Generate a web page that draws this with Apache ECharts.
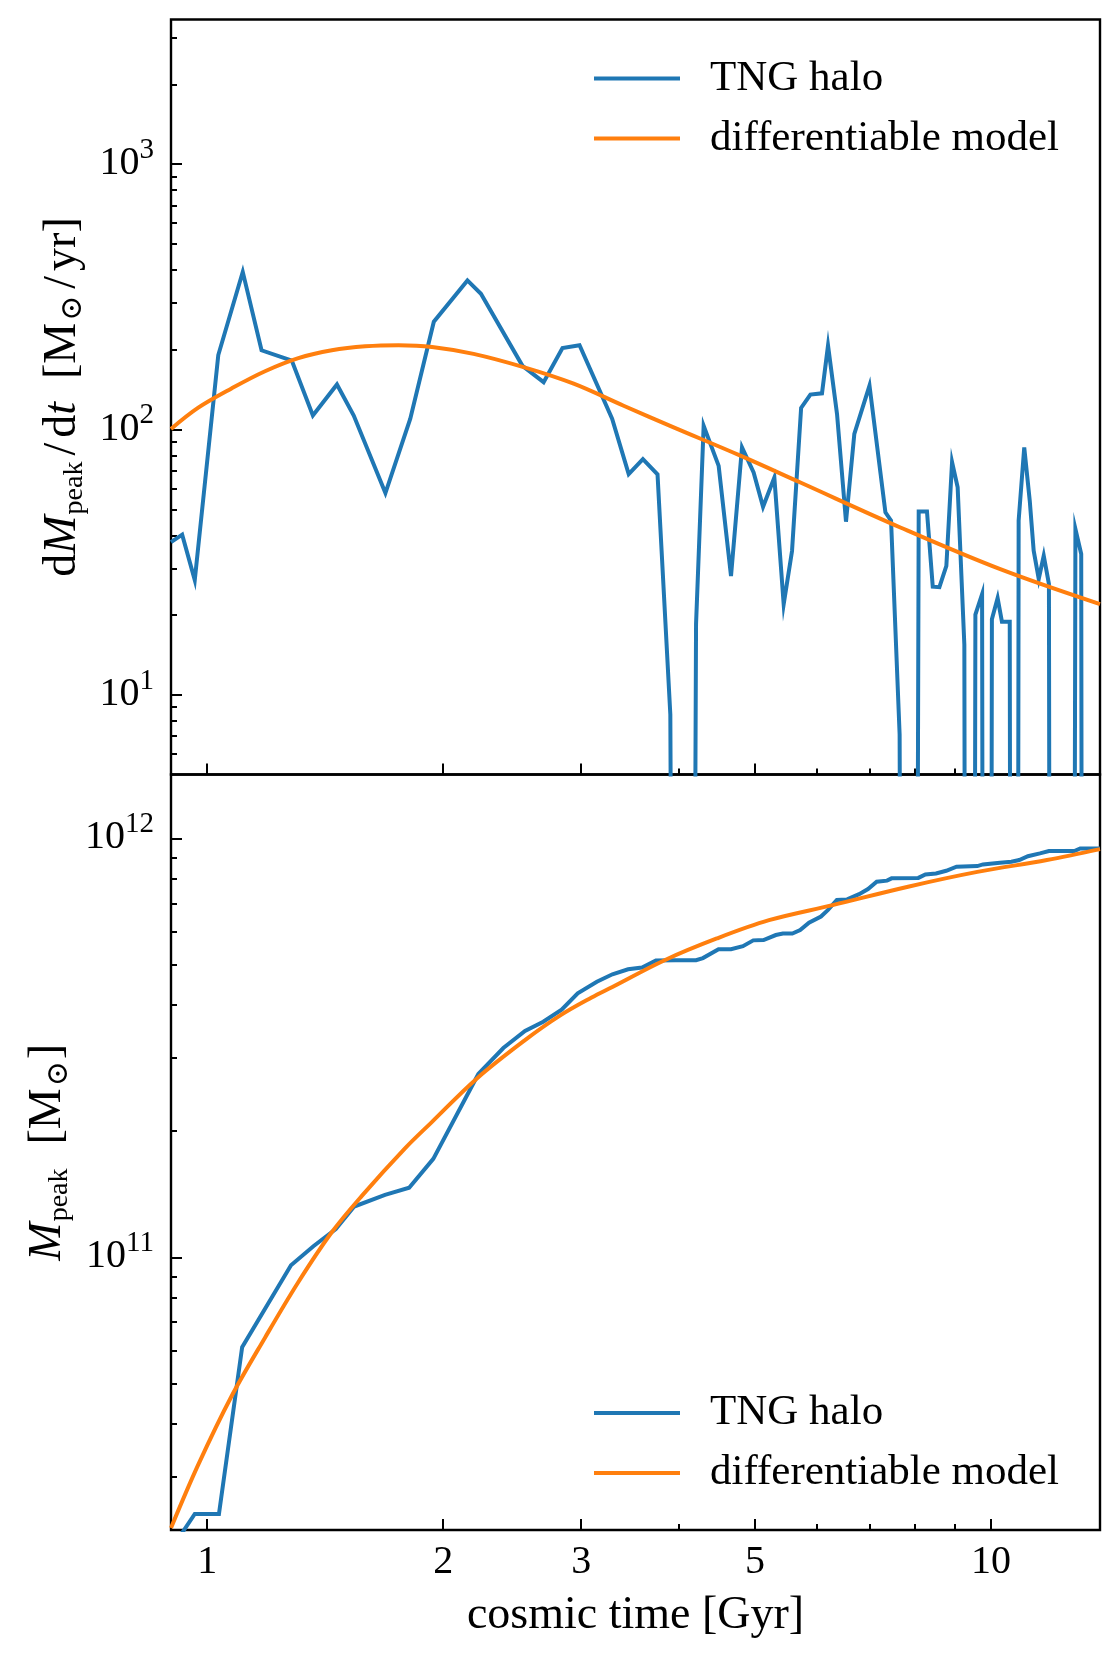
<!DOCTYPE html>
<html>
<head>
<meta charset="utf-8">
<script src="https://cdn.jsdelivr.net/npm/echarts@6/dist/echarts.min.js"></script>
<style>
html,body{margin:0;padding:0;background:#fff}
#chart{width:1120px;height:1664px}
</style>
</head>
<body>
<div id="chart"></div>
<script>
// ---------------- data ----------------
// top panel: accretion rate of the TNG halo [Msun/yr] (0 = off the log axis)
const rateTime = [0.899, 0.929, 0.964, 1.033, 1.110, 1.173, 1.282, 1.364, 1.464, 1.538, 1.688, 1.816, 1.946, 2.148, 2.235, 2.525, 2.687, 2.840, 2.986, 3.286, 3.450, 3.597, 3.755, 3.899, 4.050, 4.205, 4.300, 4.494, 4.660, 4.813, 4.980, 5.120, 5.293, 5.440, 5.575, 5.726, 5.884, 6.088, 6.197, 6.363, 6.533, 6.695, 7.000, 7.335, 7.458, 7.648, 7.870, 8.089, 8.288, 8.430, 8.596, 8.774, 8.922, 9.070, 9.250, 9.400, 9.555, 9.745, 9.890, 10.030, 10.200, 10.330, 10.570, 10.710, 10.850, 11.030, 11.210, 11.340, 11.510, 11.680, 11.860, 12.030, 12.200, 12.380, 12.560, 12.820, 13.040, 13.200, 13.400, 13.600, 13.780];
const rateValue = [37.7, 40.2, 27.1, 191, 393, 199, 182, 113, 148, 113, 57.7, 110, 255, 365, 325, 174, 151, 203, 208, 110, 68, 77.4, 67.8, 8.45, 0, 18.5, 103.5, 73, 28.1, 85.7, 69, 51.2, 66, 22, 34.9, 120.8, 135.5, 137, 207.5, 114.6, 45, 96.4, 146.6, 48.8, 45.4, 7.1, 0, 49.2, 49.2, 25.6, 25.5, 30.7, 75.4, 60.6, 15.5, 0, 20.1, 24, 0, 19.3, 23.2, 18.9, 18.9, 0, 45.4, 85.7, 54, 35, 27.4, 33.5, 26.2, 0, 0, 0, 0, 42.2, 34, 0, 0, 0, 0];
// top panel: differentiable model
const rateModelTime = [0.899, 0.974, 1.074, 1.185, 1.307, 1.442, 1.591, 1.755, 1.936, 2.187, 2.533, 2.935, 3.399, 3.937, 4.790, 5.714, 7.664, 10.28, 13.78];
const rateModelValue = [100.6, 121, 143, 166, 186, 199, 206, 208, 205, 193, 172, 149, 123, 102, 79.8, 63.2, 42.8, 29.8, 22];
// bottom panel: peak halo mass of the TNG halo [Msun]
const massTime = [0.899, 0.929, 0.964, 1.035, 1.108, 1.279, 1.366, 1.459, 1.540, 1.686, 1.810, 1.943, 2.218, 2.387, 2.544, 2.684, 2.833, 2.970, 3.142, 3.289, 3.444, 3.588, 3.737, 3.954, 4.205, 4.291, 4.492, 4.660, 4.826, 4.975, 5.128, 5.316, 5.427, 5.580, 5.710, 5.860, 6.070, 6.197, 6.360, 6.555, 6.790, 6.970, 7.150, 7.370, 7.470, 8.080, 8.250, 8.510, 8.770, 9.040, 9.610, 9.770, 10.270, 10.620, 10.870, 11.150, 11.550, 11.860, 12.780, 13.000, 13.780];
const massValue = [2.0e10, 2.2e10, 2.44e10, 2.44e10, 6.10e10, 9.57e10, 1.063e11, 1.168e11, 1.322e11, 1.409e11, 1.466e11, 1.718e11, 2.74e11, 3.16e11, 3.47e11, 3.65e11, 3.90e11, 4.27e11, 4.55e11, 4.74e11, 4.87e11, 4.92e11, 5.11e11, 5.12e11, 5.12e11, 5.18e11, 5.44e11, 5.44e11, 5.53e11, 5.71e11, 5.72e11, 5.88e11, 5.93e11, 5.93e11, 6.04e11, 6.29e11, 6.51e11, 6.75e11, 7.13e11, 7.15e11, 7.36e11, 7.57e11, 7.88e11, 7.93e11, 8.03e11, 8.05e11, 8.20e11, 8.25e11, 8.37e11, 8.56e11, 8.59e11, 8.67e11, 8.75e11, 8.80e11, 8.88e11, 9.07e11, 9.21e11, 9.33e11, 9.33e11, 9.46e11, 9.46e11];
// bottom panel: differentiable model
const massModelTime = [0.899, 0.974, 1.074, 1.185, 1.306, 1.441, 1.574, 1.788, 1.933, 2.207, 2.544, 2.822, 3.094, 3.289, 3.834, 4.470, 5.210, 6.280, 7.840, 9.610, 11.79, 13.78];
const massModelValue = [2.26e10, 3.2e10, 4.66e10, 6.43e10, 8.71e10, 1.146e11, 1.40e11, 1.82e11, 2.10e11, 2.67e11, 3.30e11, 3.78e11, 4.17e11, 4.42e11, 5.12e11, 5.77e11, 6.38e11, 6.93e11, 7.67e11, 8.32e11, 8.88e11, 9.43e11];

// axis ticks and labels
const xMajorTicks = [1, 2, 3, 5, 10];
const xMajorLabels = ['1', '2', '3', '5', '10'];
const xMinorTicks = [4, 6, 7, 8, 9];
const rateMajorTicks = [10, 100, 1000];
const rateMajorExp = ['1', '2', '3'];
const rateMinorTicks = [5, 6, 7, 8, 9, 20, 30, 40, 50, 60, 70, 80, 90, 200, 300, 400, 500, 600, 700, 800, 900, 2000, 3000];
const massMajorTicks = [1e11, 1e12];
const massMajorExp = ['11', '12'];
const massMinorTicks = [3e10, 4e10, 5e10, 6e10, 7e10, 8e10, 9e10, 2e11, 3e11, 4e11, 5e11, 6e11, 7e11, 8e11, 9e11];

const seriesNames = ['TNG halo', 'differentiable model'];
const xTitle = 'cosmic time [Gyr]';

// ---------------- styling ----------------
const FONT = 'Liberation Serif';
const BLUE = '#1f77b4', ORANGE = '#ff7f0e';
const X_MIN = 0.899, X_MAX = 13.78;
const RATE_MIN = 5.02, RATE_MAX = 3510;
const MASS_MIN = 2.234e10, MASS_MAX = 1.421e12;
const TICK_W = 2;
const LINE_W = 4;
// matplotlib clips non-positive values on a log axis to a tiny positive number
const CLIP = 1e-10;

function pairs(ts, vs) { return ts.map((t, i) => [t, vs[i] > 0 ? vs[i] : CLIP]); }
function findIdx(ticks, v) { return ticks.findIndex(t => Math.abs(t - v) / t < 1e-6); }
function supFormatter(ticks, exps) {
  return v => { const i = findIdx(ticks, v); return i < 0 ? '' : '{b|10}{s|' + exps[i] + '}'; };
}
const supRich = {
  b: { fontFamily: FONT, fontSize: 40, color: '#000', verticalAlign: 'bottom' },
  s: { fontFamily: FONT, fontSize: 29, color: '#000', verticalAlign: 'bottom', padding: [0, 0, 19, 0] }
};
const titleRich = {
  r: { fontFamily: FONT, fontSize: 46, color: '#000', lineHeight: 52 },
  sl: { fontFamily: FONT, fontSize: 46, color: '#000', lineHeight: 52, padding: [0, 5, 0, 5] },
  i: { fontFamily: FONT, fontSize: 46, color: '#000', fontStyle: 'italic', lineHeight: 52 },
  s: { fontFamily: FONT, fontSize: 28, color: '#000', verticalAlign: 'bottom', padding: [10, 1, 0, 1] },
  o: { fontFamily: 'DejaVu Serif', fontSize: 30, color: '#000', verticalAlign: 'bottom', padding: [10, 2, 0, 2] }
};

function xAxisPair(gridIndex, withLabels) {
  const major = {
    gridIndex, type: 'log', logBase: 10, min: X_MIN, max: X_MAX, position: 'bottom',
    axisLine: { show: false }, splitLine: { show: false },
    axisTick: { show: true, inside: true, length: 11, customValues: xMajorTicks, lineStyle: { color: '#000', width: TICK_W } },
    axisLabel: withLabels ? {
      show: true, customValues: xMajorTicks, margin: 12, fontFamily: FONT, fontSize: 40, color: '#000',
      formatter: v => { const i = findIdx(xMajorTicks, v); return i < 0 ? '' : xMajorLabels[i]; }
    } : { show: false }
  };
  if (withLabels) {
    major.name = xTitle;
    major.nameLocation = 'middle';
    major.nameGap = 63;
    major.nameTextStyle = { fontFamily: FONT, fontSize: 46, color: '#000' };
  }
  const minor = {
    gridIndex, type: 'log', logBase: 10, min: X_MIN, max: X_MAX, position: 'bottom',
    axisLine: { show: false }, splitLine: { show: false },
    axisTick: { show: true, inside: true, length: 6, customValues: xMinorTicks, lineStyle: { color: '#000', width: TICK_W } },
    axisLabel: { show: false }
  };
  return [major, minor];
}

function yAxisPair(gridIndex, min, max, majors, exps, minors, name, nameGap) {
  return [{
    gridIndex, type: 'log', logBase: 10, min, max, position: 'left',
    axisLine: { show: false }, splitLine: { show: false },
    axisTick: { show: true, inside: true, length: 11, customValues: majors, lineStyle: { color: '#000', width: TICK_W } },
    axisLabel: { show: true, customValues: majors, margin: 17, padding: [0, 0, 9, 0], formatter: supFormatter(majors, exps), rich: supRich },
    name, nameLocation: 'middle', nameRotate: 90, nameGap,
    nameTextStyle: { fontFamily: FONT, fontSize: 46, color: '#000', rich: titleRich }
  }, {
    gridIndex, type: 'log', logBase: 10, min, max, position: 'left',
    axisLine: { show: false }, splitLine: { show: false },
    axisTick: { show: true, inside: true, length: 6, customValues: minors, lineStyle: { color: '#000', width: TICK_W } },
    axisLabel: { show: false }
  }];
}

function legendAt(top) {
  return {
    data: seriesNames, orient: 'vertical', left: 594, top, padding: 0,
    icon: 'rect', itemWidth: 86, itemHeight: 4, itemGap: 16,
    selectedMode: false,
    textStyle: { fontFamily: FONT, fontSize: 43, color: '#000', lineHeight: 44, padding: [0, 0, 0, 25] }
  };
}

function lineSeries(name, color, xi, yi, data, smooth) {
  return {
    type: 'line', name, xAxisIndex: xi, yAxisIndex: yi, data,
    showSymbol: false, symbol: 'none', smooth: smooth ? 0.35 : false,
    lineStyle: { color, width: LINE_W, join: 'miter' }, itemStyle: { color },
    clip: true, animation: false
  };
}

const gridStyle = { show: true, borderColor: '#000', borderWidth: 2.4, backgroundColor: 'rgba(0,0,0,0)' };

const option = {
  backgroundColor: '#fff',
  animation: false,
  grid: [
    Object.assign({ left: 171, top: 19.5, width: 929, height: 755 }, gridStyle),
    Object.assign({ left: 171, top: 774.5, width: 929, height: 755.5 }, gridStyle)
  ],
  xAxis: [...xAxisPair(0, false), ...xAxisPair(1, true)],
  yAxis: [
    ...yAxisPair(0, RATE_MIN, RATE_MAX, rateMajorTicks, rateMajorExp, rateMinorTicks,
      '{r|d}{i|M}{s|peak}{sl|/}{r|d}{i|t}{r|  [M}{o|⊙}{sl|/}{r|yr]}', 79),
    ...yAxisPair(1, MASS_MIN, MASS_MAX, massMajorTicks, massMajorExp, massMinorTicks,
      '{i|M}{s|peak}{r|  [M}{o|⊙}{r|]}', 94)
  ],
  legend: [legendAt(56.5), legendAt(1391)],
  series: [
    lineSeries(seriesNames[0], BLUE, 0, 0, pairs(rateTime, rateValue), false),
    lineSeries(seriesNames[1], ORANGE, 0, 0, pairs(rateModelTime, rateModelValue), true),
    lineSeries(seriesNames[0], BLUE, 2, 2, pairs(massTime, massValue), false),
    lineSeries(seriesNames[1], ORANGE, 2, 2, pairs(massModelTime, massModelValue), true)
  ]
};

const chart = echarts.init(document.getElementById('chart'), null, { renderer: 'canvas' });
chart.setOption(option);
</script>
</body>
</html>
